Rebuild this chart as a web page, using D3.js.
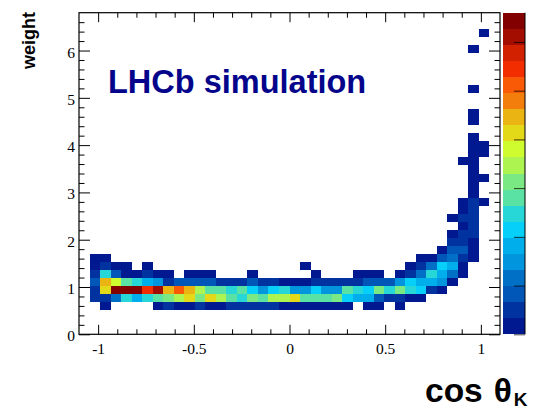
<!DOCTYPE html>
<html>
<head>
<meta charset="utf-8">
<script src="https://cdn.jsdelivr.net/npm/d3@7"></script>
<style>
  body { margin: 0; background: #fff; }
  svg { display: block; }
  .tick text { font-family: "Liberation Serif", "Times New Roman", serif; font-size: 15.5px; fill: #000; }
</style>
</head>
<body>
<svg id="chart" width="537" height="409"></svg>
<script>
// Histogram binning: cos(theta_K) on x, event weight on y
const xDomain = [-1.1, 1.1];
const yDomain = [0, 6.8];
const nBinsX = 40;
const nBinsY = 40;

// Axis ticks
const xMajorTicks = [-1, -0.5, 0, 0.5, 1];
const xTickLabels = ["-1", "-0.5", "0", "0.5", "1"];
const yMajorTicks = [0, 1, 2, 3, 4, 5, 6];
const yTickLabels = ["0", "1", "2", "3", "4", "5", "6"];

// Colour scale: 20 contour levels over the z range
const zMax = 330;
const nContours = 20;
const zTicks = [0, 50, 100, 150, 200, 250, 300];

// Rainbow palette stops (position, r, g, b), 50 colours
const paletteStops = [0.00, 0.34, 0.61, 0.84, 1.00];
const paletteRed   = [0.00, 0.00, 0.87, 1.00, 0.51];
const paletteGreen = [0.00, 0.81, 1.00, 0.20, 0.00];
const paletteBlue  = [0.51, 1.00, 0.12, 0.00, 0.00];
const paletteSize = 50;

// Bin contents: [y bin, first x bin, counts for consecutive x bins]
const cellRows = [
  [3, 2, [6, 0, 0, 0, 0, 9, 21, 12, 10, 19, 14, 13, 22, 25, 27, 24, 20, 15, 11, 13, 9, 12, 8, 7, 0, 5, 6, 0, 3]],
  [4, 1, [24, 28, 58, 124, 90, 120, 140, 155, 172, 206, 158, 204, 176, 138, 127, 152, 143, 170, 178, 208,
          136, 141, 145, 160, 108, 94, 88, 42, 27, 20, 14, 9]],
  [5, 1, [30, 210, 328, 325, 318, 272, 305, 222, 255, 226, 169, 139, 146, 125, 142, 104, 75, 111, 129, 70,
          78, 103, 80, 72, 137, 122, 106, 158, 118, 150, 128, 101, 22, 12]],
  [6, 1, [45, 220, 190, 135, 120, 92, 76, 28, 38, 44, 41, 36, 30, 26, 32, 40, 25, 29, 15, 12,
          14, 24, 27, 22, 30, 28, 39, 46, 42, 70, 110, 95, 85, 79, 11]],
  [7, 1, [20, 125, 38, 10, 8, 19, 7, 11, 0, 6, 9, 5, 0, 0, 0, 4, 0, 0, 0, 0,
          0, 3, 0, 0, 0, 5, 8, 6, 0, 9, 26, 55, 118, 86, 60, 13]],
  [8, 1, [12, 18, 9, 7, 0, 4]],
  [8, 21, [2]],
  [8, 31, [6, 23, 60, 104, 92, 10]],
  [9, 1, [11, 7]],
  [9, 32, [5, 12, 40, 58, 20, 9]],
  [10, 34, [6, 45, 38, 14]],
  [11, 35, [22, 19, 8]],
  [12, 35, [5, 24, 21]],
  [13, 36, [10, 26]],
  [14, 35, [3, 20, 28]],
  [15, 36, [8, 18]],
  [16, 36, [6, 23, 4]],
  [17, 37, [9]],
  [18, 37, [7]],
  [19, 37, [6, 2]],
  [20, 37, [5]],
  [21, 36, [2, 6]],
  [22, 37, [4, 3]],
  [23, 37, [5, 2]],
  [24, 37, [3]],
  [26, 37, [2]],
  [27, 37, [2]],
  [30, 37, [1]],
  [35, 37, [1]],
  [37, 38, [1]]
];

// Layout
const frame = { left: 79, right: 500, top: 12.7, bottom: 334.3 };
const paletteBox = { left: 503, right: 525 };

const svg = d3.select("#chart");

const x = d3.scaleLinear().domain(xDomain).range([frame.left, frame.right]);
const y = d3.scaleLinear().domain(yDomain).range([frame.bottom, frame.top]);
const z = d3.scaleLinear().domain([0, zMax]).range([frame.bottom, frame.top]);

const xEdge = i => xDomain[0] + i * (xDomain[1] - xDomain[0]) / nBinsX;
const yEdge = j => yDomain[0] + j * (yDomain[1] - yDomain[0]) / nBinsY;

const gradient = d3.scaleLinear()
  .domain(paletteStops)
  .range(paletteStops.map((_, k) => d3.rgb(paletteRed[k] * 255, paletteGreen[k] * 255, paletteBlue[k] * 255)))
  .interpolate(d3.interpolateRgb);

const contourColor = k => gradient(Math.floor((k + 0.99) * paletteSize / nContours) / (paletteSize - 1));
const dz = zMax / nContours;
const colorFor = v => contourColor(Math.max(0, Math.min(nContours - 1, Math.floor(v / dz))));

// Flatten the bin contents into cells
const cells = [];
cellRows.forEach(([j, i0, counts]) => {
  counts.forEach((c, k) => { if (c > 0) cells.push({ i: i0 + k, j, c }); });
});

// Histogram cells
svg.append("g")
  .attr("shape-rendering", "crispEdges")
  .selectAll("rect")
  .data(cells)
  .join("rect")
  .attr("x", d => x(xEdge(d.i)))
  .attr("width", d => x(xEdge(d.i + 1)) - x(xEdge(d.i)))
  .attr("y", d => y(yEdge(d.j + 1)))
  .attr("height", d => y(yEdge(d.j)) - y(yEdge(d.j + 1)))
  .attr("fill", d => colorFor(d.c));

// Minor tick positions
const xMinor = d3.range(-10, 11).map(v => v / 10).filter(v => Math.abs(v * 2 - Math.round(v * 2)) > 1e-6);
const yMinor = d3.range(1, 34).map(v => v / 5).filter(v => Math.abs(v - Math.round(v)) > 1e-6);

const styleAxis = g => {
  g.select(".domain").remove();
  g.selectAll(".tick line").attr("stroke", "#000").attr("stroke-width", 1);
};

// Bottom axis with labels
svg.append("g")
  .attr("transform", `translate(0,${frame.bottom})`)
  .call(d3.axisBottom(x).tickValues(xMajorTicks).tickSizeInner(-9.5).tickSizeOuter(0).tickPadding(5)
        .tickFormat((d, k) => xTickLabels[k]))
  .call(styleAxis)
  .call(g => g.selectAll(".tick text").attr("dy", "0.95em"));
svg.append("g")
  .attr("transform", `translate(0,${frame.bottom})`)
  .call(d3.axisBottom(x).tickValues(xMinor).tickSizeInner(-5).tickSizeOuter(0).tickFormat(""))
  .call(styleAxis);

// Top axis (ticks only)
svg.append("g")
  .attr("transform", `translate(0,${frame.top})`)
  .call(d3.axisTop(x).tickValues(xMajorTicks).tickSizeInner(-9.5).tickSizeOuter(0).tickFormat(""))
  .call(styleAxis);
svg.append("g")
  .attr("transform", `translate(0,${frame.top})`)
  .call(d3.axisTop(x).tickValues(xMinor).tickSizeInner(-5).tickSizeOuter(0).tickFormat(""))
  .call(styleAxis);

// Left axis with labels
svg.append("g")
  .attr("transform", `translate(${frame.left},0)`)
  .call(d3.axisLeft(y).tickValues(yMajorTicks).tickSizeInner(-11).tickSizeOuter(0).tickPadding(4)
        .tickFormat((d, k) => yTickLabels[k]))
  .call(styleAxis)
  .call(g => g.selectAll(".tick text").attr("dy", "0.42em"));
svg.append("g")
  .attr("transform", `translate(${frame.left},0)`)
  .call(d3.axisLeft(y).tickValues(yMinor).tickSizeInner(-5.5).tickSizeOuter(0).tickFormat(""))
  .call(styleAxis);

// Right axis (ticks only)
svg.append("g")
  .attr("transform", `translate(${frame.right},0)`)
  .call(d3.axisRight(y).tickValues(yMajorTicks).tickSizeInner(-11).tickSizeOuter(0).tickFormat(""))
  .call(styleAxis);
svg.append("g")
  .attr("transform", `translate(${frame.right},0)`)
  .call(d3.axisRight(y).tickValues(yMinor).tickSizeInner(-5.5).tickSizeOuter(0).tickFormat(""))
  .call(styleAxis);

// Frame
svg.append("rect")
  .attr("x", frame.left).attr("y", frame.top)
  .attr("width", frame.right - frame.left).attr("height", frame.bottom - frame.top)
  .attr("fill", "none").attr("stroke", "#000").attr("stroke-width", 1.2);

// Colour palette
svg.append("g")
  .attr("shape-rendering", "crispEdges")
  .selectAll("rect")
  .data(d3.range(nContours))
  .join("rect")
  .attr("x", paletteBox.left)
  .attr("width", paletteBox.right - paletteBox.left)
  .attr("y", k => z((k + 1) * dz))
  .attr("height", k => z(k * dz) - z((k + 1) * dz))
  .attr("fill", k => contourColor(k));

svg.append("g")
  .attr("transform", `translate(${paletteBox.right},0)`)
  .call(d3.axisRight(z).tickValues(zTicks).tickSizeInner(-11).tickSizeOuter(0).tickFormat(""))
  .call(g => g.select(".domain").remove())
  .call(g => g.selectAll(".tick line").attr("stroke", "#000").attr("stroke-opacity", 0.75));
svg.append("line")
  .attr("x1", paletteBox.right).attr("x2", paletteBox.right)
  .attr("y1", frame.top).attr("y2", frame.bottom)
  .attr("stroke", "#000").attr("stroke-width", 1);

// Label inside the frame
svg.append("text")
  .attr("x", 108).attr("y", 93)
  .attr("font-family", "'Liberation Sans', Arial, sans-serif")
  .attr("font-weight", "bold")
  .attr("font-size", 32.5)
  .attr("fill", "#05058c")
  .text("LHCb simulation");

// Axis titles
svg.append("text")
  .attr("transform", `translate(35,12) rotate(-90)`)
  .attr("text-anchor", "end")
  .attr("font-family", "'Liberation Sans', Arial, sans-serif")
  .attr("font-weight", "bold")
  .attr("font-size", 18)
  .text("weight");

const xTitle = svg.append("text")
  .attr("x", 425).attr("y", 402)
  .attr("font-family", "'Liberation Sans', Arial, sans-serif")
  .attr("font-weight", "bold")
  .attr("font-size", 33.5);
xTitle.append("tspan").text("cos");
xTitle.append("tspan").attr("dx", 11).text("θ");
xTitle.append("tspan").attr("font-size", 19).attr("dx", 2).attr("dy", 4).text("K");
</script>
</body>
</html>
